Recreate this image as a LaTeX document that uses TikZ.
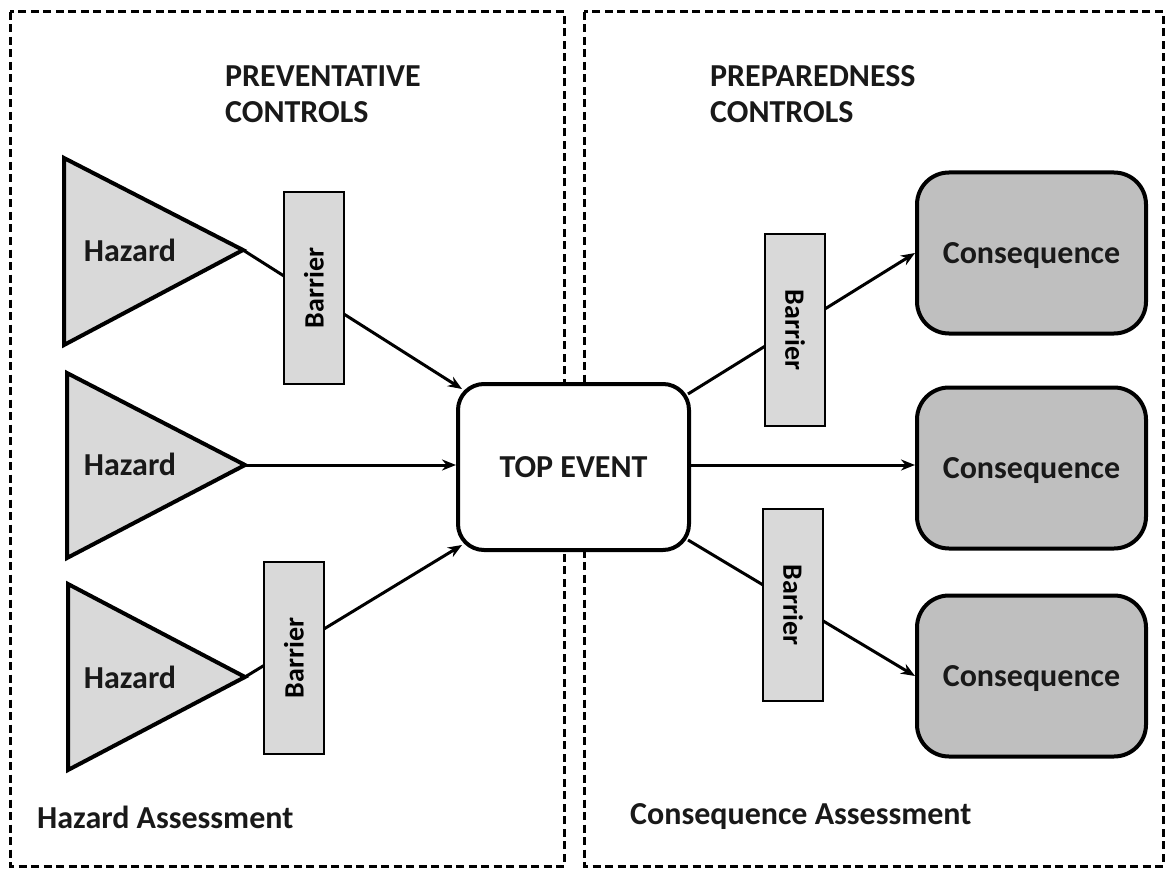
\documentclass[tikz,border=0pt]{standalone}
\usepackage{fontspec}
\setmainfont{Carlito}
\usetikzlibrary{calc,arrows.meta}

\tikzset{
  zone/.style={draw=black, line width=3pt, dash pattern=on 8pt off 4.5pt},
  bigtext/.style={font=\bfseries\fontsize{32}{36}\selectfont, text=black!90},
  heading/.style={bigtext, align=left, anchor=west, inner sep=0pt},
  hazardshape/.style={draw=black, fill=black!15, line width=4pt, line join=miter},
  barrierbox/.style={draw=black, fill=black!15, line width=2.8pt, minimum width=60pt,
    minimum height=192pt, inner sep=0pt, font=\bfseries\fontsize{28}{30}\selectfont},
  topbox/.style={draw=black, fill=white, line width=4pt, rounded corners=26pt,
    minimum width=231pt, minimum height=166pt, bigtext},
  consbox/.style={draw=black, fill=black!25, line width=4pt, rounded corners=32pt,
    minimum width=229pt, minimum height=161pt, text depth=0pt, bigtext},
  link/.style={draw=black, line width=3pt},
  arrowlink/.style={link, -{Stealth[length=14pt,width=11pt]}}
}

\begin{document}
\begin{tikzpicture}[x=1pt,y=-1pt]
\useasboundingbox (0,0) rectangle (1167,869);

% assessment zones
\draw[zone] (10,12) rectangle (564,866);
\draw[zone] (584,12) rectangle (1163,866);

\node[heading] (prevhead) at (225,94) {PREVENTATIVE\\CONTROLS};
\node[heading] (prephead) at (710,94) {PREPAREDNESS\\CONTROLS};
\node[bigtext, anchor=west, inner sep=0pt] (hazassess) at (37,817) {Hazard Assessment};
\node[bigtext, anchor=west, inner sep=0pt] (consassess) at (630,817) {Consequence Assessment};

% central event
\node[topbox] (top) at (573.5,467) {TOP EVENT};

% consequences
\node[consbox] (c1) at (1031.5,253) {Consequence};
\node[consbox] (c2) at (1031.5,468) {Consequence};
\node[consbox] (c3) at (1031.5,676) {Consequence};

% hazards
\draw[hazardshape] (64,158) -- (243,250) -- (64,345) -- cycle;
\draw[hazardshape] (67,373) -- (245,465) -- (67,558) -- cycle;
\draw[hazardshape] (68,584) -- (245,677) -- (68,770) -- cycle;
\coordinate (h1tip) at (243,250);
\coordinate (h2tip) at (245,465);
\coordinate (h3tip) at (245,677);
\node[bigtext] (h1) at (130,250) {Hazard};
\node[bigtext] (h2) at (130,464) {Hazard};
\node[bigtext] (h3) at (130,677) {Hazard};

% points where the connectors meet the rounded event box
\coordinate (tnw) at ($(top.north west)+(6,7)$);
\coordinate (tsw) at ($(top.south west)+(6,-7)$);
\coordinate (tne) at ($(top.north east)+(-3,12)$);
\coordinate (tse) at ($(top.south east)+(-3,-12)$);

% connectors (barriers are drawn over them afterwards)
\draw[arrowlink] (h1tip) -- (tnw);
\draw[arrowlink] (h2tip) -- (h2tip -| top.west);
\draw[arrowlink] (h3tip) -- (tsw);
\draw[arrowlink] (tne) -- (c1.west);
\draw[arrowlink] (top.east |- h2tip) -- (h2tip -| c2.west);
\draw[arrowlink] (tse) -- (c3.west);

% barriers
\node[barrierbox] (b1) at (314,288) {\rotatebox{90}{Barrier}};
\node[barrierbox] (b2) at (294,658) {\rotatebox{90}{Barrier}};
\node[barrierbox] (b3) at (795,330) {\rotatebox{-90}{Barrier}};
\node[barrierbox] (b4) at (793,605) {\rotatebox{-90}{Barrier}};
\end{tikzpicture}
\end{document}
